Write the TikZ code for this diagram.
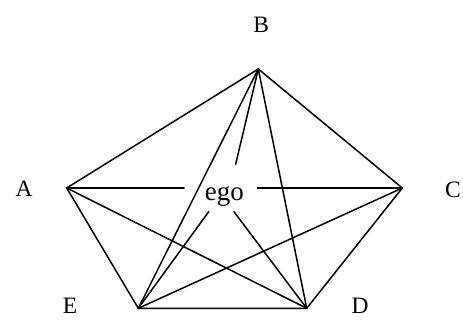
\documentclass[tikz,border=0pt]{standalone}
\usepackage{fontspec}
\setmainfont{Liberation Serif}
\begin{document}
\begin{tikzpicture}[x=1pt,y=-1pt,
  edge/.style={line width=1.5pt,line cap=round},
  lab/.style={font=\fontsize{23.5}{27}\selectfont,inner sep=0pt},
  gapbox/.style={rectangle,draw=none,inner sep=0pt,minimum width=73pt,minimum height=47pt}]
\useasboundingbox (0,0) rectangle (463,320);
% vertices
\coordinate (A) at (66.7,188);
\coordinate (B) at (258.3,69);
\coordinate (C) at (402.3,188);
\coordinate (D) at (306.7,308.3);
\coordinate (E) at (138.3,308.3);
% labels
\node[lab] (lA) at (24,189) {A};
\node[lab] (lB) at (261.3,24.5) {B};
\node[lab] (lC) at (453,190) {C};
\node[lab] (lD) at (360,306) {D};
\node[lab] (lE) at (70,306) {E};
% ego
\node[gapbox,label={[font=\fontsize{27}{31}\selectfont,inner sep=0pt,xshift=3.5pt,yshift=-8.3pt]center:ego}] (ego) at (220.8,188) {};
% pentagon
\draw[edge] (A) -- (B) -- (C) -- (D) -- (E) -- cycle;
% diagonals
\draw[edge] (A) -- (D);
\draw[edge] (B) -- (E);
\draw[edge] (B) -- (D);
\draw[edge] (C) -- (E);
% ego ties
\draw[edge] (A) -- (ego.west);
\draw[edge] (C) -- (ego.east);
\draw[edge] (B) -- (ego.58.9);
\draw[edge] (E) -- (ego.243.3);
\draw[edge] (D) -- (ego.299.9);
\end{tikzpicture}
\end{document}
